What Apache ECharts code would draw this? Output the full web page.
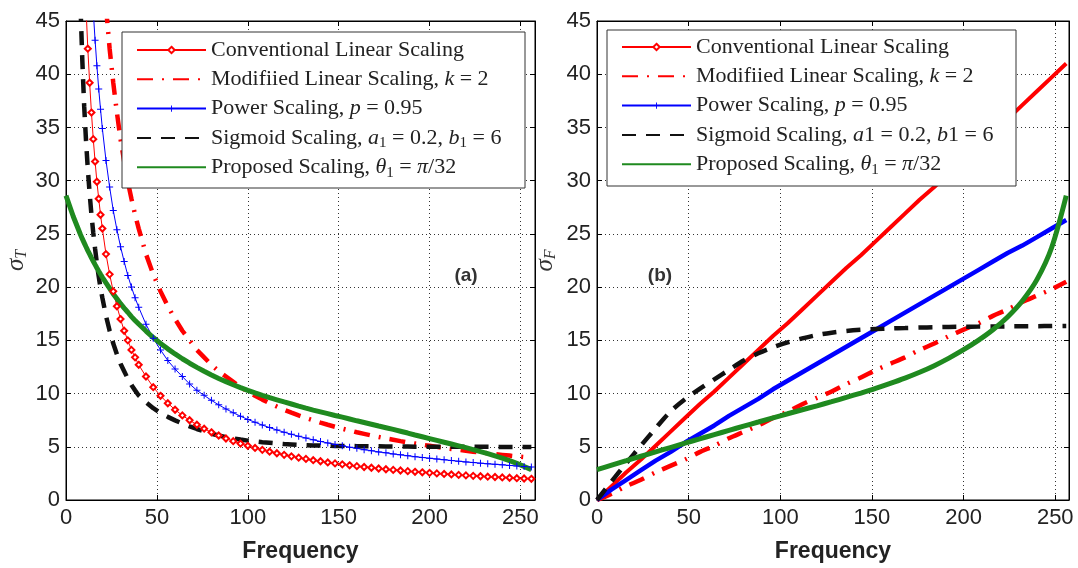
<!DOCTYPE html>
<html>
<head>
<meta charset="utf-8">
<script src="https://cdn.jsdelivr.net/npm/echarts@6/dist/echarts.min.js"></script>
<style>
html, body { margin: 0; padding: 0; background: #fff; }
#chart { width: 1078px; height: 568px; }
</style>
</head>
<body>
<div id="chart"></div>
<script>
// ---- (a) time spread sigma_T versus frequency ----
const freqT = [0, 4, 8, 9, 10, 11, 12, 13, 14, 15, 16, 17, 18, 19, 20,
  22, 24, 26, 28, 30, 32, 34, 36, 38, 40,
  44, 48, 52, 56, 60, 64, 68, 72, 76, 80, 84, 88, 92, 96, 100,
  104, 108, 112, 116, 120, 124, 128, 132, 136, 140, 144, 148, 152, 156, 160,
  164, 168, 172, 176, 180, 184, 188, 192, 196, 200, 204, 208, 212, 216, 220,
  224, 228, 232, 236, 240, 244, 248, 252, 256];

const convT = [null, null, null, null, null, 46.3, 42.4, 39.2, 36.4, 33.9, 31.8, 29.9, 28.3, 26.8, 25.5,
  23.1, 21.2, 19.6, 18.2, 17.0, 15.9, 15.0, 14.1, 13.4, 12.7,
  11.6, 10.6, 9.79, 9.09, 8.48, 7.95, 7.49, 7.07, 6.70, 6.36, 6.06, 5.78, 5.53, 5.30, 5.09,
  4.89, 4.71, 4.54, 4.39, 4.24, 4.10, 3.98, 3.86, 3.74, 3.64, 3.53, 3.44, 3.35, 3.26, 3.18,
  3.10, 3.03, 2.96, 2.89, 2.83, 2.77, 2.71, 2.65, 2.60, 2.55, 2.50, 2.45, 2.40, 2.36, 2.31,
  2.27, 2.23, 2.19, 2.16, 2.12, 2.09, 2.05, 2.02, 1.99];

const modT = [null, null, null, null, null, null, null, null, null, null, null, null, null, null, null,
  46.3, 42.4, 39.2, 36.4, 33.9, 31.8, 29.9, 28.3, 26.8, 25.5,
  23.1, 21.2, 19.6, 18.2, 17.0, 15.9, 15.0, 14.1, 13.4, 12.7, 12.1, 11.6, 11.1, 10.6, 10.2,
  9.79, 9.43, 9.09, 8.78, 8.48, 8.21, 7.95, 7.71, 7.49, 7.27, 7.07, 6.88, 6.70, 6.53, 6.36,
  6.21, 6.06, 5.92, 5.78, 5.66, 5.53, 5.41, 5.30, 5.19, 5.09, 4.99, 4.89, 4.80, 4.71, 4.63,
  4.54, 4.46, 4.39, 4.31, 4.24, 4.17, 4.10, 4.04, 3.98];

const powT = [null, null, null, null, null, null, null, null, null, 45.9, 43.2, 40.8, 38.6, 36.7, 34.9,
  31.9, 29.4, 27.2, 25.4, 23.8, 22.4, 21.1, 20.0, 19.0, 18.1,
  16.5, 15.2, 14.1, 13.1, 12.3, 11.6, 10.9, 10.3, 9.83, 9.36, 8.94, 8.55, 8.20, 7.87, 7.57,
  7.30, 7.04, 6.80, 6.58, 6.37, 6.17, 5.99, 5.82, 5.65, 5.50, 5.36, 5.22, 5.09, 4.96, 4.85,
  4.73, 4.63, 4.52, 4.43, 4.33, 4.24, 4.16, 4.07, 4.00, 3.92, 3.85, 3.78, 3.71, 3.64, 3.58,
  3.52, 3.46, 3.40, 3.35, 3.30, 3.25, 3.20, 3.15, 3.10];

const sigT = [null, null, 46.3, 41.2, 37.0, 33.8, 31.1, 28.8, 26.8, 25.1, 23.6, 22.2, 21.0, 19.9, 19.0,
  17.3, 15.9, 14.7, 13.7, 12.8, 12.1, 11.4, 10.8, 10.3, 9.82,
  9.18, 8.62, 8.17, 7.81, 7.48, 7.19, 6.92, 6.67, 6.44, 6.22, 6.06, 5.91, 5.79, 5.68, 5.58,
  5.51, 5.43, 5.37, 5.31, 5.26, 5.22, 5.18, 5.15, 5.13, 5.11, 5.10, 5.08, 5.07, 5.07, 5.06,
  5.05, 5.04, 5.04, 5.03, 5.02, 5.02, 5.02, 5.01, 5.01, 5.01, 5.01, 5.00, 5.00, 5.00, 5.00,
  5.00, 5.00, 5.00, 4.99, 4.99, 4.99, 4.99, 4.99, 4.99];

const propT = [28.60, 26.63, 24.92, 24.53, 24.16, 23.79, 23.43, 23.09, 22.75, 22.43, 22.11, 21.80, 21.50, 21.21, 20.93,
  20.39, 19.88, 19.36, 18.91, 18.44, 18.03, 17.64, 17.23, 16.87, 16.53,
  15.87, 15.26, 14.71, 14.20, 13.72, 13.27, 12.85, 12.46, 12.09, 11.74, 11.42, 11.12, 10.83, 10.56, 10.30,
  10.06, 9.83, 9.61, 9.41, 9.21, 9.02, 8.82, 8.63, 8.45, 8.28, 8.11, 7.94, 7.78, 7.61, 7.44,
  7.28, 7.12, 6.95, 6.79, 6.63, 6.46, 6.29, 6.11, 5.94, 5.77, 5.60, 5.43, 5.26, 5.09, 4.92,
  4.74, 4.55, 4.36, 4.15, 3.94, 3.69, 3.44, 3.15, 2.85];

// ---- (b) frequency spread sigma_F versus frequency ----
const freqF = [0, 8, 16, 24, 32, 40, 48, 56, 64, 72, 80, 88, 96, 104, 112, 120, 128,
  136, 144, 152, 160, 168, 176, 184, 192, 200, 208, 216, 224, 232, 240, 248, 256];

const convF = [0, 1.3, 2.6, 3.8, 5.1, 6.4, 7.7, 9.0, 10.2, 11.5, 12.8, 14.1, 15.4, 16.6, 17.9, 19.2, 20.5,
  21.8, 23.0, 24.3, 25.6, 26.9, 28.2, 29.4, 30.7, 32.0, 33.3, 34.6, 35.8, 37.1, 38.4, 39.7, 41.0];
const modF = [0, 0.6, 1.3, 1.9, 2.6, 3.2, 3.8, 4.5, 5.1, 5.8, 6.4, 7.0, 7.7, 8.3, 9.0, 9.6, 10.2,
  10.9, 11.5, 12.2, 12.8, 13.4, 14.1, 14.7, 15.4, 16.0, 16.6, 17.3, 17.9, 18.6, 19.2, 19.8, 20.5];
const powF = [0, 1.0, 1.9, 2.8, 3.7, 4.5, 5.4, 6.2, 7.0, 7.9, 8.7, 9.5, 10.4, 11.2, 12.0, 12.8, 13.6,
  14.4, 15.2, 16.0, 16.8, 17.6, 18.4, 19.2, 20.0, 20.8, 21.6, 22.4, 23.2, 23.9, 24.7, 25.5, 26.3];
const sigF = [0, 1.76, 3.46, 5.12, 6.74, 8.3, 9.46, 10.44, 11.34, 12.22, 13.1, 13.78, 14.34, 14.8, 15.18, 15.5, 15.72,
  15.88, 15.99, 16.06, 16.12, 16.16, 16.2, 16.23, 16.26, 16.28, 16.29, 16.3, 16.31, 16.32, 16.33, 16.34, 16.35];
const propF = [2.85, 3.27, 3.69, 4.11, 4.52, 4.93, 5.34, 5.74, 6.14, 6.54, 6.94, 7.33, 7.72, 8.10, 8.48, 8.85, 9.24,
  9.64, 10.05, 10.48, 10.95, 11.45, 12.0, 12.62, 13.33, 14.12, 15.0, 16.0, 17.2, 18.7, 20.7, 23.7, 28.6];

// axis ranges
const xMaxT = 258, xMaxF = 257.5, yMax = 45;

// legend entries
const NAME_CONV = 'Conventional Linear Scaling';
const NAME_MOD = 'Modifiied Linear Scaling, k = 2';
const NAME_POW = 'Power Scaling, p = 0.95';
const NAME_SIG_T = 'Sigmoid Scaling, a_1 = 0.2, b_1 = 6';
const NAME_SIG_F = 'Sigmoid Scaling, a1 = 0.2, b1 = 6';
const NAME_PROP = 'Proposed Scaling, theta_1 = pi/32';

const legendText = {};
legendText[NAME_CONV] = 'Conventional Linear Scaling';
legendText[NAME_MOD] = 'Modifiied Linear Scaling, {i|k} = 2';
legendText[NAME_POW] = 'Power Scaling, {i|p} = 0.95';
legendText[NAME_SIG_T] = 'Sigmoid Scaling, {i|a}{s|1} = 0.2, {i|b}{s|1} = 6';
legendText[NAME_SIG_F] = 'Sigmoid Scaling, {i|a}1 = 0.2, {i|b}1 = 6';
legendText[NAME_PROP] = 'Proposed Scaling, {i|θ}{s|1} = {i|π}/32';

const RED = '#ff0000', BLUE = '#0000ff', BLACK = '#111111', GREEN = '#1f8a1f';
const PLUS = 'path://M3,0h1v3h3v1h-3v3h-1v-3h-3v-1h3z';
const SANS = '"Liberation Sans", Arial, sans-serif';
const SERIF = '"Liberation Serif", "Times New Roman", serif';

function pairs(xs, ys) { return xs.map((x, i) => [x, ys[i]]); }

const gridLine = { show: true, lineStyle: { color: '#333', width: 1, type: [1, 3] } };
const ticks = { show: true, inside: true, length: 5, lineStyle: { color: '#000', width: 1 } };
const axisLine = { show: true, onZero: false, lineStyle: { color: '#000', width: 1 } };
const tickLabel = { fontFamily: SANS, fontSize: 22, color: '#222' };

function xMain(grid, max) {
  return {
    type: 'value', gridIndex: grid, min: 0, max: max, interval: 50,
    axisLine: axisLine, axisTick: ticks, splitLine: gridLine,
    axisLabel: Object.assign({ margin: 7, showMaxLabel: false }, tickLabel),
    name: 'Frequency', nameLocation: 'middle', nameGap: 40,
    nameTextStyle: { fontFamily: SANS, fontWeight: 'bold', fontSize: 23, color: '#222' }
  };
}
function xTop(grid, max) {
  return {
    type: 'value', gridIndex: grid, position: 'top', min: 0, max: max, interval: 50,
    axisLine: axisLine, axisTick: ticks, splitLine: { show: false }, axisLabel: { show: false }
  };
}
function yMain(grid, sub, gap) {
  return {
    type: 'value', gridIndex: grid, min: 0, max: yMax, interval: 5,
    axisLine: axisLine, axisTick: ticks, splitLine: gridLine,
    axisLabel: Object.assign({ margin: 6 }, tickLabel),
    name: '{s|σ}{t|' + sub + '}', nameLocation: 'middle', nameGap: gap, nameRotate: 90,
    nameTextStyle: {
      rich: {
        s: { fontFamily: SERIF, fontStyle: 'italic', fontSize: 25, color: '#333', lineHeight: 28 },
        t: { fontFamily: SERIF, fontStyle: 'italic', fontSize: 16, color: '#333', lineHeight: 14, verticalAlign: 'bottom' }
      }
    }
  };
}
function yRight(grid) {
  return {
    type: 'value', gridIndex: grid, position: 'right', min: 0, max: yMax, interval: 5,
    axisLine: axisLine, axisTick: ticks, splitLine: { show: false }, axisLabel: { show: false }
  };
}

function markedLine(name, xi, data, color, symbol, size, width, showSymbol) {
  return {
    name: name, type: 'line', xAxisIndex: xi, yAxisIndex: xi, data: data,
    symbol: symbol, symbolSize: size, showSymbol: showSymbol,
    lineStyle: { color: color, width: width },
    itemStyle: { color: color, borderColor: color, borderWidth: symbol === PLUS ? 0 : 1.5 },
    emphasis: { disabled: true }, silent: true, animation: false, clip: true
  };
}
function styledLine(name, xi, data, color, width, type, smooth) {
  return {
    name: name, type: 'line', xAxisIndex: xi, yAxisIndex: xi, data: data,
    symbol: 'none', smooth: smooth,
    lineStyle: { color: color, width: width, type: type, cap: 'butt' },
    itemStyle: { color: color },
    emphasis: { disabled: true }, silent: true, animation: false, clip: true
  };
}

const DASHDOT = [16, 9, 2, 9];
const DASHED = [14, 10];

const series = [
  markedLine(NAME_CONV, 0, pairs(freqT, convT), RED, 'emptyDiamond', 6, 1, true),
  styledLine(NAME_MOD, 0, pairs(freqT, modT), RED, 4.5, DASHDOT, false),
  markedLine(NAME_POW, 0, pairs(freqT, powT), BLUE, PLUS, 7, 1, true),
  styledLine(NAME_SIG_T, 0, pairs(freqT, sigT), BLACK, 4.5, DASHED, false),
  styledLine(NAME_PROP, 0, pairs(freqT, propT), GREEN, 5, 'solid', false),

  markedLine(NAME_CONV, 1, pairs(freqF, convF), RED, 'emptyDiamond', 6, 4, false),
  styledLine(NAME_MOD, 1, pairs(freqF, modF), RED, 4.5, DASHDOT, 0.3),
  markedLine(NAME_POW, 1, pairs(freqF, powF), BLUE, PLUS, 7, 4.5, false),
  styledLine(NAME_SIG_F, 1, pairs(freqF, sigF), BLACK, 4.5, DASHED, 0.3),
  styledLine(NAME_PROP, 1, pairs(freqF, propF), GREEN, 5, 'solid', 0.3)
];

function legendFor(names, left, top) {
  return {
    show: true, orient: 'vertical', left: left, top: top, padding: 0,
    itemWidth: 69, itemHeight: 8, itemGap: 3.3, selectedMode: false, z: 60,
    data: names.map(n => {
      const item = { name: n };
      if (n !== NAME_CONV && n !== NAME_POW) item.itemStyle = { opacity: 0 };
      return item;
    }),
    formatter: n => legendText[n],
    textStyle: {
      fontFamily: SERIF, fontSize: 22, color: '#222', lineHeight: 26,
      rich: {
        i: { fontFamily: SERIF, fontStyle: 'italic', fontSize: 22, color: '#222', lineHeight: 26 },
        s: { fontFamily: SERIF, fontSize: 15, color: '#222', lineHeight: 14, verticalAlign: 'bottom' }
      }
    }
  };
}

const chart = echarts.init(document.getElementById('chart'), null, { renderer: 'canvas' });
chart.setOption({
  backgroundColor: '#fff',
  animation: false,
  grid: [
    { left: 66, top: 21, width: 469, height: 479, show: true, borderColor: '#000', borderWidth: 1, backgroundColor: 'transparent' },
    { left: 597, top: 21, width: 472, height: 479, show: true, borderColor: '#000', borderWidth: 1, backgroundColor: 'transparent' }
  ],
  xAxis: [xMain(0, xMaxT), xMain(1, xMaxF), xTop(0, xMaxT), xTop(1, xMaxF)],
  yAxis: [yMain(0, 'T', 36), yMain(1, 'F', 38), yRight(0), yRight(1)],
  legend: [
    legendFor([NAME_CONV, NAME_MOD, NAME_POW, NAME_SIG_T, NAME_PROP], 136, 37),
    legendFor([NAME_CONV, NAME_MOD, NAME_POW, NAME_SIG_F, NAME_PROP], 621, 34)
  ],
  graphic: [
    { type: 'rect', z: 50, shape: { x: 122, y: 32, width: 403, height: 156 },
      style: { fill: '#fff', stroke: '#333', lineWidth: 1 } },
    { type: 'rect', z: 50, shape: { x: 607, y: 30, width: 409, height: 156 },
      style: { fill: '#fff', stroke: '#333', lineWidth: 1 } },
    { type: 'text', z: 50, x: 466, y: 276,
      style: { text: '(a)', font: 'bold 19px "Liberation Sans", Arial, sans-serif', fill: '#333', align: 'center', verticalAlign: 'middle' } },
    { type: 'text', z: 50, x: 660, y: 276,
      style: { text: '(b)', font: 'bold 19px "Liberation Sans", Arial, sans-serif', fill: '#333', align: 'center', verticalAlign: 'middle' } }
  ],
  series: series
});
</script>
</body>
</html>
